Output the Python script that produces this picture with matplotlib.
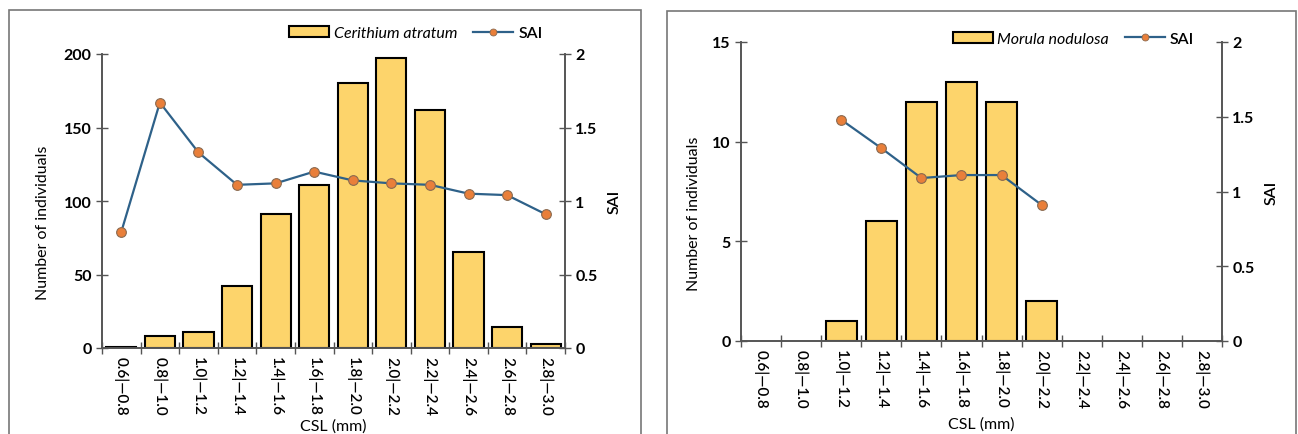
import numpy as np
import matplotlib.pyplot as plt
from matplotlib.patches import Rectangle
from matplotlib.lines import Line2D

plt.rcParams['font.family'] = ['Lato', 'DejaVu Sans']

klasy = ["0.6|—0.8", "0.8|—1.0", "1.0|—1.2", "1.2|—1.4", "1.4|—1.6", "1.6|—1.8",
         "1.8|—2.0", "2.0|—2.2", "2.2|—2.4", "2.4|—2.6", "2.6|—2.8", "2.8|—3.0"]

# Cerithium atratum
cer_n = [1, 8, 11, 42, 91, 111, 180, 197, 162, 65, 14, 3]
cer_sai = [0.79, 1.67, 1.33, 1.11, 1.12, 1.20, 1.14, 1.12, 1.11, 1.05, 1.04, 0.91]

# Morula nodulosa
mor_n = [0, 0, 1, 6, 12, 13, 12, 2, 0, 0, 0, 0]
mor_sai = [np.nan, np.nan, 1.48, 1.29, 1.09, 1.11, 1.11, 0.91,
           np.nan, np.nan, np.nan, np.nan]

ZOLTY = '#FDD46B'
NIEBIESKI = '#2E6189'
POMARANCZ = '#E97F3A'
SZARY = '#555555'

W, H = 1298, 435
fig = plt.figure(figsize=(W / 100, H / 100), dpi=100)

# ramki paneli
for x0, x1, y_top in [(9, 641, 11), (667, 1296, 12)]:
    fig.patches.append(Rectangle((x0 / W, -0.05), (x1 - x0) / W, 1.05 - y_top / H,
                                 transform=fig.transFigure, fill=False,
                                 edgecolor='#777777', linewidth=1.2))


def panel(rect, liczby, sai, nazwa, ymax, yticks, leg_anchor, xpad, ylab_xy):
    ax = fig.add_axes(rect)
    x = np.arange(len(klasy))
    liczby = np.array(liczby, dtype=float)
    m = liczby > 0
    ax.bar(x[m], liczby[m], width=0.78, color=ZOLTY, edgecolor='black',
           linewidth=1.5, zorder=2)
    ax.set_xlim(-0.5, len(klasy) - 0.5)
    ax.set_ylim(0, ymax)
    ax.set_yticks(yticks)
    ax.set_xticks(x)
    ax.set_xticklabels(klasy, rotation=-90, fontsize=11, fontweight='semibold')
    ax.set_xticks(np.arange(-0.5, len(klasy)), minor=True)
    ax.tick_params(axis='x', which='major', length=0, pad=6)
    ax.tick_params(axis='x', which='minor', direction='inout', length=8,
                   width=1, color=SZARY)
    ax.tick_params(axis='y', direction='inout', length=8, width=1, color=SZARY,
                   labelsize=11.5)
    ax.set_xlabel("CSL (mm)", fontsize=11.5, labelpad=xpad)
    ax.set_ylabel("Number of individuals", fontsize=11.5)
    ax.yaxis.set_label_coords(*ylab_xy)

    ax2 = ax.twinx()
    ax2.plot(x, sai, color=NIEBIESKI, linewidth=1.6, marker='o', markersize=7,
             markerfacecolor=POMARANCZ, markeredgecolor='#8a6a50',
             markeredgewidth=0.8)
    ax2.set_ylim(0, 2)
    ax2.set_yticks([0, 0.5, 1, 1.5, 2])
    ax2.set_yticklabels(['0', '0.5', '1', '1.5', '2'])
    ax2.tick_params(axis='y', direction='inout', length=8, width=1, color=SZARY,
                    labelsize=11.5)
    ax2.set_ylabel("SAI", fontsize=11.5, fontweight='semibold', rotation=90,
                   labelpad=7)

    for a in (ax, ax2):
        a.spines['top'].set_visible(False)
        for s in ('left', 'right', 'bottom'):
            a.spines[s].set_color(SZARY)
            a.spines[s].set_linewidth(1.2)
        for lab in a.get_yticklabels():
            lab.set_fontweight('bold')

    h_bar = Rectangle((0, 0), 1, 1, facecolor=ZOLTY, edgecolor='black', linewidth=1.5)
    h_line = Line2D([], [], color=NIEBIESKI, linewidth=1.6, marker='o', markersize=5,
                    markerfacecolor=POMARANCZ, markeredgecolor='#8a6a50',
                    markeredgewidth=0.6)
    leg = ax2.legend([h_bar, h_line], [nazwa, "SAI"], loc='lower right',
                     bbox_to_anchor=leg_anchor, ncol=2, frameon=False,
                     fontsize=11.5, handlelength=2.5, handleheight=0.7,
                     handletextpad=0.3, columnspacing=1.0, borderaxespad=0)
    leg.get_texts()[0].set_fontstyle('italic')
    leg.get_texts()[1].set_fontweight('semibold')
    return ax, ax2


panel([102 / W, 86 / H, 463 / W, 294 / H], cer_n, cer_sai, "Cerithium atratum",
      200, [0, 50, 100, 150, 200], (0.965, 1.025), 2, (-0.112, 0.43))
panel([741 / W, 93 / H, 481 / W, 299 / H], mor_n, mor_sai, "Morula nodulosa",
      15, [0, 5, 10, 15], (0.955, 0.965), 6, (-0.083, 0.43))

fig.savefig("out.png", dpi=100)
